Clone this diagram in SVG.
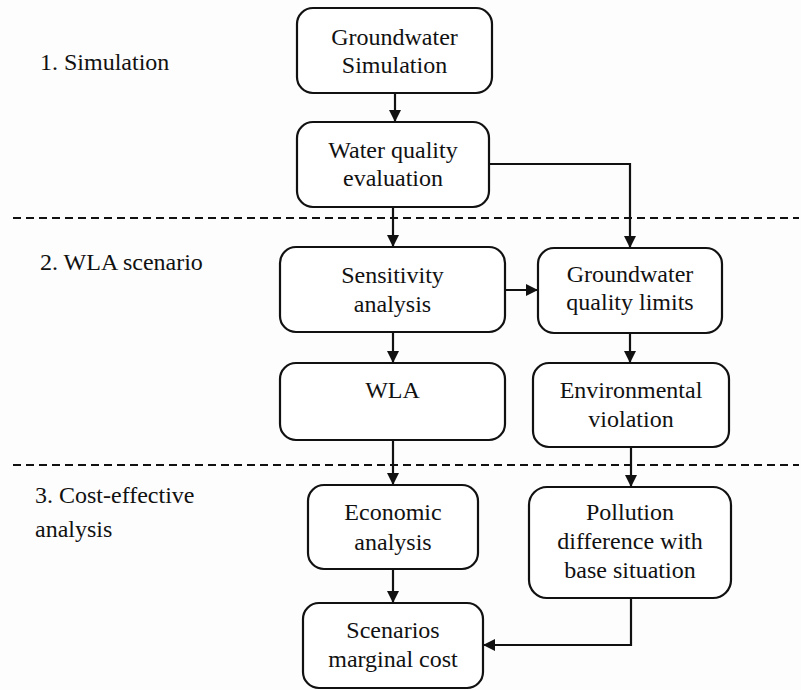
<svg xmlns="http://www.w3.org/2000/svg" width="801" height="690" viewBox="0 0 801 690">
<defs>
<marker id="ah" viewBox="0 0 12 12" refX="12" refY="6" markerWidth="12" markerHeight="12" markerUnits="userSpaceOnUse" orient="auto">
<path d="M0,0 L12,6 L0,12 Z" fill="#111"/>
</marker>
</defs>
<rect width="801" height="690" fill="#fdfdfd"/>
<g id="dividers" fill="none" stroke="#111" stroke-width="2" stroke-dasharray="8 5">
<line x1="13" y1="218" x2="799" y2="218"/>
<line x1="13" y1="465" x2="799" y2="465"/>
</g>
<text font-family="Liberation Serif" font-size="24" fill="#111" x="40" y="70">1. Simulation</text>
<text font-family="Liberation Serif" font-size="24" fill="#111" x="40" y="270">2. WLA scenario</text>
<text font-family="Liberation Serif" font-size="24" fill="#111" x="35" y="503">3. Cost-effective</text>
<text font-family="Liberation Serif" font-size="24" fill="#111" x="35" y="537">analysis</text>
<g id="connectors" fill="none" stroke="#111" stroke-width="2.2">
<line x1="395" y1="93" x2="395" y2="122" marker-end="url(#ah)"/>
<line x1="393" y1="207" x2="393" y2="247" marker-end="url(#ah)"/>
<polyline points="489,164 630,164 630,248" marker-end="url(#ah)"/>
<line x1="505" y1="290" x2="538" y2="290" marker-end="url(#ah)"/>
<line x1="393" y1="332" x2="393" y2="363" marker-end="url(#ah)"/>
<line x1="630" y1="333" x2="630" y2="363" marker-end="url(#ah)"/>
<line x1="393" y1="440" x2="393" y2="485" marker-end="url(#ah)"/>
<line x1="631" y1="447" x2="631" y2="487" marker-end="url(#ah)"/>
<line x1="393" y1="569" x2="393" y2="603" marker-end="url(#ah)"/>
<polyline points="631,598 631,645 483,645" marker-end="url(#ah)"/>
</g>
<g id="n1"><rect x="297" y="8" width="195" height="85" rx="16" fill="#fff" stroke="#111" stroke-width="2.2"/></g>
<text font-family="Liberation Serif" font-size="24" fill="#111" text-anchor="middle" x="394.5" y="45">Groundwater</text>
<text font-family="Liberation Serif" font-size="24" fill="#111" text-anchor="middle" x="394.5" y="73">Simulation</text>
<g id="n2"><rect x="297" y="122" width="192" height="85" rx="16" fill="#fff" stroke="#111" stroke-width="2.2"/></g>
<text font-family="Liberation Serif" font-size="24" fill="#111" text-anchor="middle" x="393" y="158">Water quality</text>
<text font-family="Liberation Serif" font-size="24" fill="#111" text-anchor="middle" x="393" y="186">evaluation</text>
<g id="n3"><rect x="280" y="247" width="225" height="85" rx="16" fill="#fff" stroke="#111" stroke-width="2.2"/></g>
<text font-family="Liberation Serif" font-size="24" fill="#111" text-anchor="middle" x="392.5" y="283">Sensitivity</text>
<text font-family="Liberation Serif" font-size="24" fill="#111" text-anchor="middle" x="392.5" y="312">analysis</text>
<g id="n4"><rect x="538" y="248" width="184" height="85" rx="16" fill="#fff" stroke="#111" stroke-width="2.2"/></g>
<text font-family="Liberation Serif" font-size="24" fill="#111" text-anchor="middle" x="630" y="282">Groundwater</text>
<text font-family="Liberation Serif" font-size="24" fill="#111" text-anchor="middle" x="630" y="310">quality limits</text>
<g id="n5"><rect x="280" y="363" width="225" height="77" rx="16" fill="#fff" stroke="#111" stroke-width="2.2"/></g>
<text font-family="Liberation Serif" font-size="24" fill="#111" text-anchor="middle" x="392.5" y="398">WLA</text>
<g id="n6"><rect x="533" y="363" width="196" height="84" rx="16" fill="#fff" stroke="#111" stroke-width="2.2"/></g>
<text font-family="Liberation Serif" font-size="24" fill="#111" text-anchor="middle" x="631" y="398">Environmental</text>
<text font-family="Liberation Serif" font-size="24" fill="#111" text-anchor="middle" x="631" y="427">violation</text>
<g id="n7"><rect x="308" y="485" width="170" height="84" rx="16" fill="#fff" stroke="#111" stroke-width="2.2"/></g>
<text font-family="Liberation Serif" font-size="24" fill="#111" text-anchor="middle" x="393" y="520">Economic</text>
<text font-family="Liberation Serif" font-size="24" fill="#111" text-anchor="middle" x="393" y="550">analysis</text>
<g id="n8"><rect x="529" y="487" width="202" height="111" rx="18" fill="#fff" stroke="#111" stroke-width="2.2"/></g>
<text font-family="Liberation Serif" font-size="24" fill="#111" text-anchor="middle" x="630" y="520">Pollution</text>
<text font-family="Liberation Serif" font-size="24" fill="#111" text-anchor="middle" x="630" y="549">difference with</text>
<text font-family="Liberation Serif" font-size="24" fill="#111" text-anchor="middle" x="630" y="578">base situation</text>
<g id="n9"><rect x="303" y="603" width="180" height="85" rx="16" fill="#fff" stroke="#111" stroke-width="2.2"/></g>
<text font-family="Liberation Serif" font-size="24" fill="#111" text-anchor="middle" x="393" y="638">Scenarios</text>
<text font-family="Liberation Serif" font-size="24" fill="#111" text-anchor="middle" x="393" y="667">marginal cost</text>
</svg>
